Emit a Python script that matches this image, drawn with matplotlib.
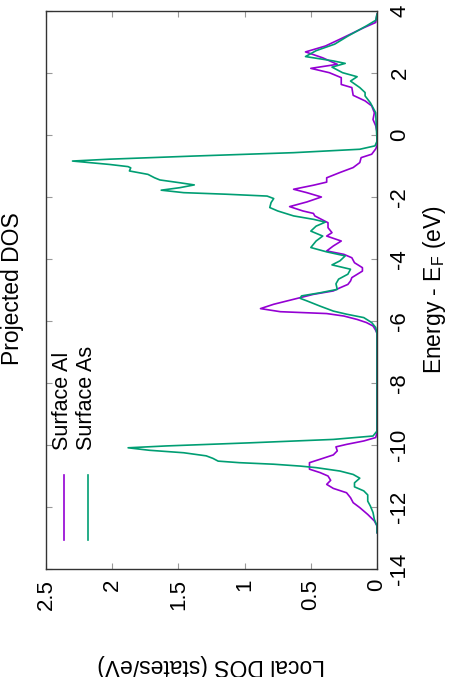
import matplotlib
matplotlib.use("Agg")
import matplotlib.pyplot as plt

plt.rcParams['font.family'] = ['Liberation Sans', 'DejaVu Sans']
plt.rcParams['mathtext.fontset'] = 'custom'
plt.rcParams['mathtext.rm'] = 'Liberation Sans'
plt.rcParams['mathtext.it'] = 'Liberation Sans:italic'

# ---- data (energy in eV relative to E_F, local DOS in states/eV) ----
al_energy = [-12.83, -12.61, -12.45, -12.24, -12.02, -11.86, -11.70, -11.54, -11.40, -11.27,
             -11.14, -11.00, -10.89, -10.78, -10.68, -10.57, -10.46, -10.32, -10.19, -10.06,
             -9.98, -9.87, -9.76, -9.60, -6.40, -6.30, -6.16, -6.05, -5.95, -5.84,
             -5.76, -5.70, -5.60, -5.46, -5.30, -5.14, -5.03, -4.93, -4.82, -4.71,
             -4.60, -4.39, -4.28, -4.12, -3.96, -3.85, -3.74, -3.58, -3.42, -3.26,
             -3.15, -2.99, -2.83, -2.61, -2.53, -2.45, -2.31, -2.16, -2.00, -1.86,
             -1.75, -1.62, -1.52, -1.38, -1.21, -1.05, -0.89, -0.73, -0.62, -0.45,
             -0.35, 0.10, 0.30, 0.50, 0.72, 0.94, 1.10, 1.28, 1.53, 1.63,
             1.85, 2.01, 2.15, 2.28, 2.49, 2.68, 2.87, 3.09, 3.46, 3.63, 3.90]
al_dos = [0.00, 0.00, 0.02, 0.07, 0.13, 0.18, 0.20, 0.23, 0.33, 0.38,
          0.35, 0.37, 0.43, 0.51, 0.51, 0.51, 0.43, 0.33, 0.30, 0.31,
          0.23, 0.10, 0.01, 0.00, 0.00, 0.01, 0.03, 0.08, 0.15, 0.25,
          0.38, 0.73, 0.88, 0.78, 0.63, 0.48, 0.33, 0.28, 0.22, 0.20,
          0.19, 0.11, 0.11, 0.17, 0.19, 0.25, 0.38, 0.33, 0.27, 0.38,
          0.34, 0.37, 0.37, 0.47, 0.48, 0.56, 0.66, 0.53, 0.42, 0.53,
          0.63, 0.48, 0.38, 0.38, 0.28, 0.18, 0.13, 0.12, 0.04, 0.01,
          0.00, 0.00, 0.01, 0.03, 0.02, 0.04, 0.09, 0.18, 0.19, 0.27,
          0.27, 0.36, 0.50, 0.30, 0.41, 0.54, 0.39, 0.28, 0.10, 0.01, 0.00]

as_energy = [-12.83, -12.61, -12.40, -12.18, -11.97, -11.81, -11.61, -11.48, -11.35, -11.22,
             -11.07, -10.95, -10.84, -10.73, -10.68, -10.62, -10.57, -10.52, -10.43, -10.35,
             -10.25, -10.17, -10.09, -10.03, -9.93, -9.82, -9.71, -9.55, -6.40, -6.21,
             -6.05, -5.89, -5.78, -5.68, -5.52, -5.35, -5.27, -5.19, -5.09, -4.98,
             -4.80, -4.65, -4.49, -4.33, -4.19, -4.06, -3.90, -3.77, -3.63, -3.42,
             -3.26, -3.10, -2.94, -2.81, -2.72, -2.61, -2.45, -2.34, -2.18, -2.05,
             -1.97, -1.91, -1.86, -1.78, -1.70, -1.61, -1.54, -1.45, -1.38, -1.27,
             -1.16, -1.06, -1.02, -0.95, -0.84, -0.78, -0.68, -0.57, -0.46, -0.35,
             -0.20, 0.72, 1.04, 1.26, 1.37, 1.53, 1.74, 1.88, 2.01, 2.19,
             2.31, 2.39, 2.53, 2.72, 2.93, 3.19, 3.52, 3.70, 3.90]
as_dos = [0.00, 0.00, 0.02, 0.03, 0.05, 0.07, 0.07, 0.10, 0.17, 0.17,
          0.13, 0.18, 0.28, 0.46, 0.58, 0.78, 1.04, 1.20, 1.24, 1.29,
          1.46, 1.72, 1.88, 1.59, 0.96, 0.33, 0.03, 0.00, 0.00, 0.01,
          0.04, 0.10, 0.23, 0.33, 0.43, 0.53, 0.58, 0.57, 0.43, 0.30,
          0.31, 0.29, 0.22, 0.20, 0.34, 0.28, 0.24, 0.38, 0.50, 0.46,
          0.41, 0.50, 0.46, 0.39, 0.48, 0.63, 0.75, 0.81, 0.80, 0.78,
          0.83, 1.14, 1.46, 1.63, 1.49, 1.38, 1.49, 1.64, 1.68, 1.73,
          1.87, 1.86, 1.88, 2.02, 2.30, 2.02, 1.39, 0.63, 0.13, 0.015,
          0.00, 0.01, 0.05, 0.09, 0.09, 0.13, 0.20, 0.15, 0.26, 0.34,
          0.24, 0.33, 0.54, 0.46, 0.32, 0.22, 0.08, 0.01, 0.00]

series_labels = ["Surface Al", "Surface As"]
series_colors = ["#9400d3", "#009e73"]
energy_ticks = [-14, -12, -10, -8, -6, -4, -2, 0, 2, 4]
dos_ticks = [0, 0.5, 1, 1.5, 2, 2.5]
dos_tick_labels = ["0", "0.5", "1", "1.5", "2", "2.5"]

W, H = 450, 677
fig = plt.figure(figsize=(W / 100, H / 100), dpi=100)

def fx(p):
    return p / W

def fy(p):
    return 1 - p / H

left, right, top, bottom = 46, 377, 11, 569
ax = fig.add_axes([fx(left), fy(bottom), fx(right) - fx(left), fy(top) - fy(bottom)])

ax.plot(al_dos, al_energy, color=series_colors[0], lw=1.2)
ax.plot(as_dos, as_energy, color=series_colors[1], lw=1.2)

ax.set_xlim(2.5, 0)
ax.set_ylim(-14, 4)
ax.set_xticks(dos_ticks)
ax.set_xticklabels(dos_tick_labels)
ax.set_yticks(energy_ticks)
ax.set_yticklabels([str(t) for t in energy_ticks])

for s in ax.spines.values():
    s.set_color('#333333')
    s.set_linewidth(1.0)

ax.tick_params(axis='both', which='both', direction='in', length=4.5, width=0.8,
               color='#999999', top=True, bottom=True, left=True, right=True,
               labelleft=False, labelright=True, labeltop=False, labelbottom=True,
               labelsize=16)
ax.tick_params(axis='x', pad=7, labelrotation=90)
ax.tick_params(axis='y', pad=9, labelrotation=90)
for lab in ax.get_yticklabels():
    lab.set_va('center')
for lab in ax.get_xticklabels():
    lab.set_ha('center')

# axis titles and title (rotated layout)
fig.text(fx(211.5), fy(666), "Local DOS (states/eV)", rotation=180,
         ha='center', va='center', fontsize=16.5)
fig.text(fx(435), fy(290), r"Energy - E$_\mathrm{F}$ (eV)", rotation=90,
         ha='center', va='center', fontsize=16.5)
fig.text(fx(13), fy(289), "Projected DOS", rotation=90,
         ha='center', va='center', fontsize=16.5)

# legend (vertical samples, rotated text)
for i, (lab, col) in enumerate(zip(series_labels, series_colors)):
    xc = 64.3 + 24 * i
    fig.add_artist(plt.Line2D([fx(xc), fx(xc)], [fy(475), fy(540)], color=col, lw=1.2,
                              transform=fig.transFigure))
    fig.text(fx(xc - 1.5), fy(450), lab, rotation=90, ha='center', va='bottom',
             fontsize=15.5)

fig.savefig("out.png", dpi=100)
